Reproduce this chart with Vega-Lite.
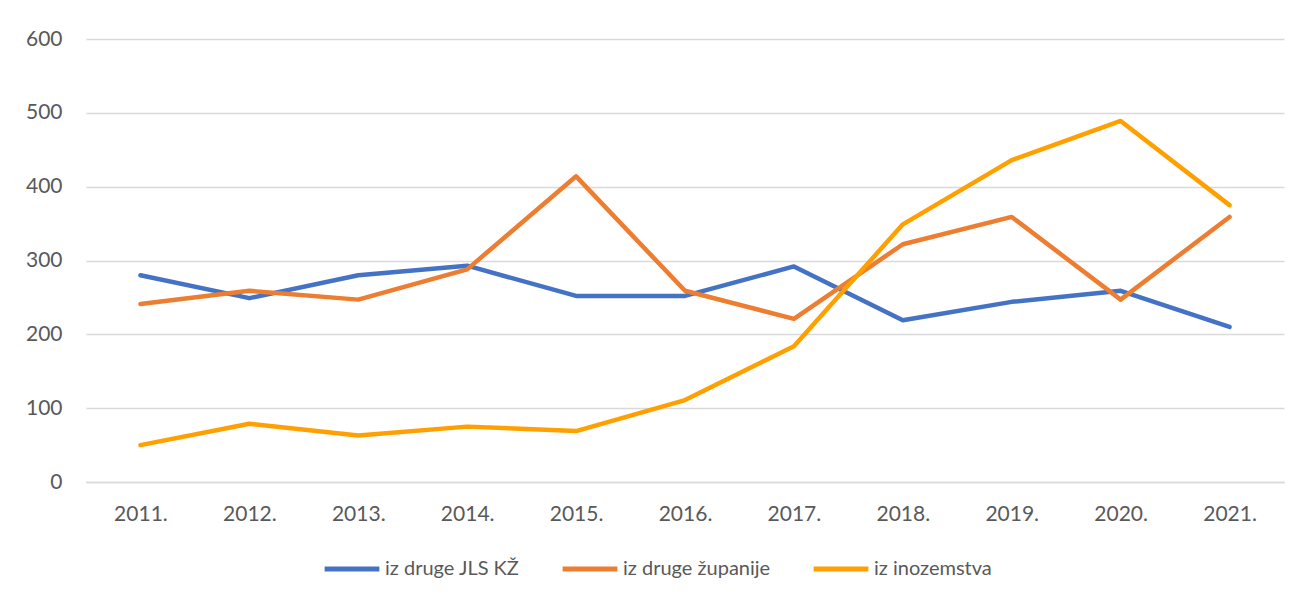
{
  "$schema": "https://vega.github.io/schema/vega-lite/v6.json",
  "width": 1198,
  "height": 443,
  "padding": {"left": 86, "top": 39, "right": 17, "bottom": 117},
  "autosize": {"type": "none"},
  "background": "white",
  "config": {
    "font": "Lato",
    "view": {"stroke": null},
    "axis": {"labelColor": "#595959", "labelFontSize": 21, "gridColor": "#D9D9D9", "gridWidth": 1.5, "ticks": false, "title": null}
  },
  "data": {
    "values": [
      {"g": "2011.", "s": "iz druge JLS KŽ", "v": 280},
      {"g": "2012.", "s": "iz druge JLS KŽ", "v": 249},
      {"g": "2013.", "s": "iz druge JLS KŽ", "v": 280},
      {"g": "2014.", "s": "iz druge JLS KŽ", "v": 293},
      {"g": "2015.", "s": "iz druge JLS KŽ", "v": 252},
      {"g": "2016.", "s": "iz druge JLS KŽ", "v": 252},
      {"g": "2017.", "s": "iz druge JLS KŽ", "v": 292},
      {"g": "2018.", "s": "iz druge JLS KŽ", "v": 219},
      {"g": "2019.", "s": "iz druge JLS KŽ", "v": 244},
      {"g": "2020.", "s": "iz druge JLS KŽ", "v": 259},
      {"g": "2021.", "s": "iz druge JLS KŽ", "v": 210},
      {"g": "2011.", "s": "iz druge županije", "v": 241},
      {"g": "2012.", "s": "iz druge županije", "v": 259},
      {"g": "2013.", "s": "iz druge županije", "v": 247},
      {"g": "2014.", "s": "iz druge županije", "v": 288},
      {"g": "2015.", "s": "iz druge županije", "v": 414},
      {"g": "2016.", "s": "iz druge županije", "v": 259},
      {"g": "2017.", "s": "iz druge županije", "v": 221},
      {"g": "2018.", "s": "iz druge županije", "v": 322},
      {"g": "2019.", "s": "iz druge županije", "v": 359},
      {"g": "2020.", "s": "iz druge županije", "v": 247},
      {"g": "2021.", "s": "iz druge županije", "v": 359},
      {"g": "2011.", "s": "iz inozemstva", "v": 50},
      {"g": "2012.", "s": "iz inozemstva", "v": 79},
      {"g": "2013.", "s": "iz inozemstva", "v": 63},
      {"g": "2014.", "s": "iz inozemstva", "v": 75},
      {"g": "2015.", "s": "iz inozemstva", "v": 69},
      {"g": "2016.", "s": "iz inozemstva", "v": 111},
      {"g": "2017.", "s": "iz inozemstva", "v": 184},
      {"g": "2018.", "s": "iz inozemstva", "v": 349},
      {"g": "2019.", "s": "iz inozemstva", "v": 436},
      {"g": "2020.", "s": "iz inozemstva", "v": 489},
      {"g": "2021.", "s": "iz inozemstva", "v": 375}
    ]
  },
  "mark": {"type": "line", "strokeWidth": 4.5, "strokeCap": "round", "strokeJoin": "round"},
  "encoding": {
    "x": {
      "field": "g", "type": "ordinal",
      "scale": {"type": "point", "padding": 0.5},
      "axis": {"labelAngle": 0, "labelPadding": 21, "domainColor": "#D9D9D9", "domainWidth": 1.5, "grid": false}
    },
    "y": {
      "field": "v", "type": "quantitative",
      "scale": {"domain": [0, 600]},
      "axis": {"values": [0, 100, 200, 300, 400, 500, 600], "domain": false, "labelPadding": 24}
    },
    "color": {
      "field": "s", "type": "nominal",
      "scale": {"domain": ["iz druge JLS KŽ", "iz druge županije", "iz inozemstva"], "range": ["#4472C4", "#ED7D31", "#FFA000"]},
      "legend": {
        "title": null, "orient": "none", "direction": "horizontal",
        "legendX": 236, "legendY": 500,
        "symbolType": "stroke", "symbolSize": 3000, "symbolStrokeWidth": 5,
        "labelFontSize": 20, "labelColor": "#595959", "labelOffset": 3,
        "columnPadding": 32
      }
    }
  }
}
